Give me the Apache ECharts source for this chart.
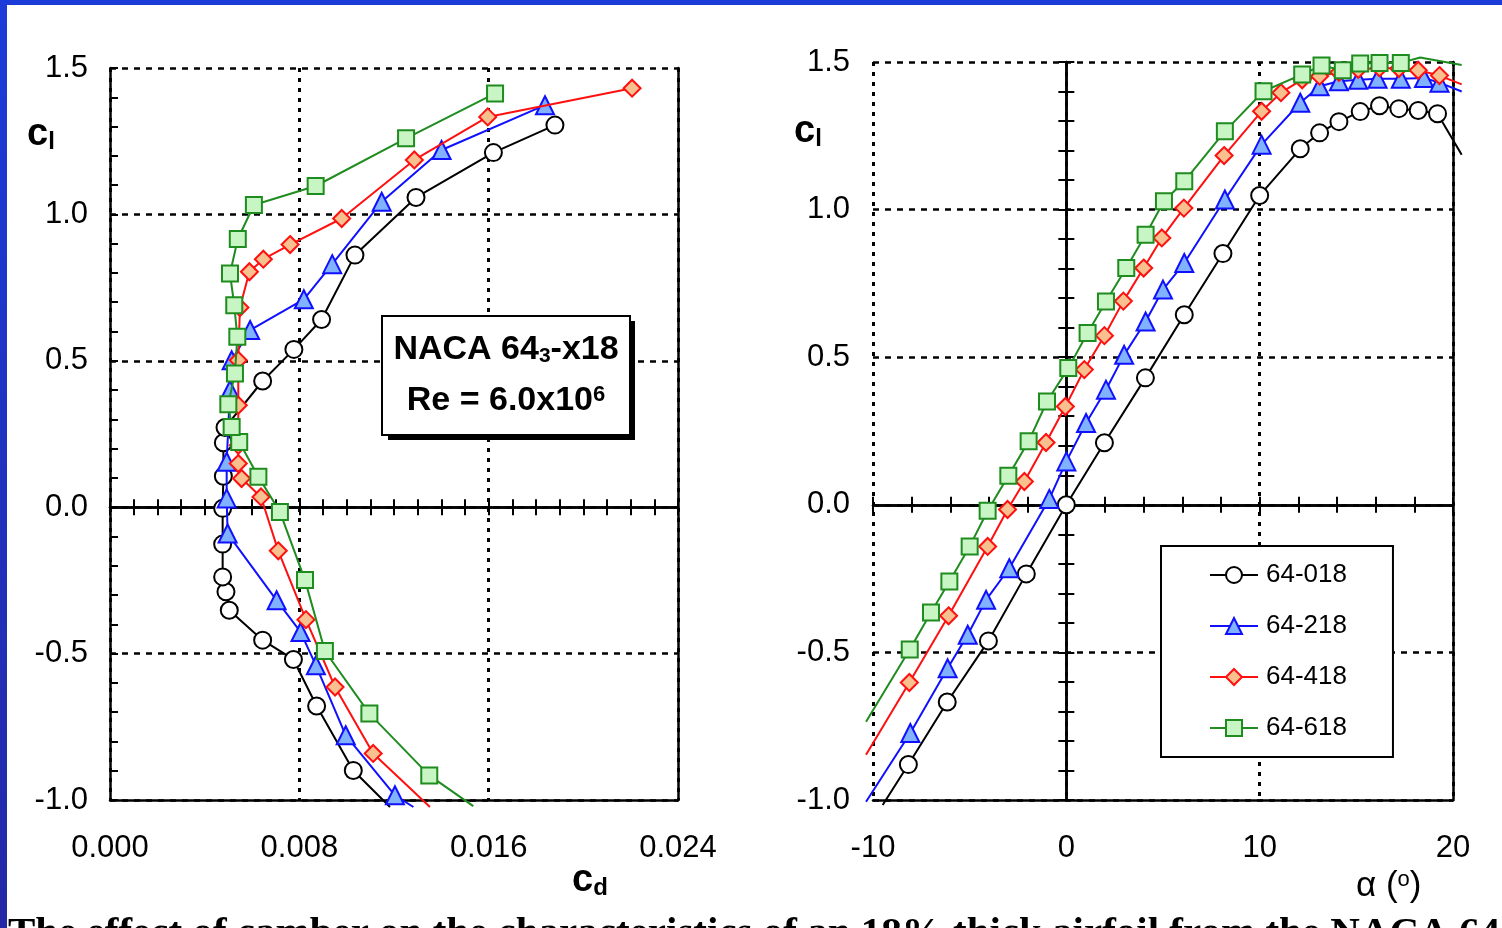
<!DOCTYPE html>
<html><head><meta charset="utf-8">
<script src="https://cdn.jsdelivr.net/npm/echarts@6/dist/echarts.min.js"></script>
<style>
html,body{margin:0;padding:0;width:1502px;height:928px;overflow:hidden;}
body{background:linear-gradient(to bottom,#1b3cd9 0%,#2428a6 100%);position:relative;}
#paper{position:absolute;left:7px;top:5px;right:0;bottom:0;background:#fff;}
#chart{position:absolute;left:0;top:0;width:1502px;height:928px;}
</style></head><body><div id="paper"></div><div id="chart"></div>
<script>
// ---------- DATA ----------
const names = ['64-018', '64-218', '64-418', '64-618'];

// Left panel: drag polar (cd, cl)
const cd018 = [0.01183, 0.01028, 0.00873, 0.00775, 0.00645, 0.00504, 0.00490, 0.00476, 0.00476, 0.00476, 0.00479, 0.00479, 0.00486, 0.00645, 0.00777, 0.00894, 0.01035, 0.01293, 0.01620, 0.01880];
const clD018 = [-1.024, -0.899, -0.679, -0.520, -0.454, -0.352, -0.289, -0.238, -0.126, -0.004, 0.106, 0.220, 0.272, 0.431, 0.539, 0.641, 0.861, 1.058, 1.211, 1.305];
const fitD018 = [0];

const cd218 = [0.01282, 0.01204, 0.00996, 0.00870, 0.00805, 0.00704, 0.00497, 0.00493, 0.00493, 0.00507, 0.00514, 0.00592, 0.00819, 0.00939, 0.01148, 0.01401, 0.01838];
const clD218 = [-1.024, -0.984, -0.779, -0.540, -0.426, -0.318, -0.090, 0.030, 0.155, 0.400, 0.502, 0.605, 0.710, 0.830, 1.043, 1.220, 1.373];
const fitD218 = [0];

const cd418 = [0.01352, 0.01112, 0.00951, 0.00828, 0.00711, 0.00638, 0.00556, 0.00542, 0.00542, 0.00542, 0.00542, 0.00549, 0.00589, 0.00648, 0.00761, 0.00979, 0.01286, 0.01596, 0.02206];
const clD418 = [-1.024, -0.841, -0.614, -0.384, -0.149, 0.035, 0.098, 0.149, 0.212, 0.348, 0.502, 0.682, 0.804, 0.847, 0.897, 0.986, 1.186, 1.333, 1.431];
const fitD418 = [0];

const cd618 = [0.01535, 0.01349, 0.01096, 0.00908, 0.00824, 0.00718, 0.00627, 0.00546, 0.00514, 0.00500, 0.00528, 0.00538, 0.00525, 0.00507, 0.00540, 0.00608, 0.00869, 0.01251, 0.01627];
const clD618 = [-1.021, -0.916, -0.705, -0.491, -0.249, -0.016, 0.104, 0.223, 0.274, 0.352, 0.457, 0.582, 0.690, 0.798, 0.916, 1.032, 1.097, 1.260, 1.413];
const fitD618 = [0];

// Right panel: lift curve (alpha, cl)
const a018 = [-9.5, -8.17, -6.16, -4.03, -2.07, 0, 1.97, 4.09, 6.1, 8.1, 10.0, 12.1, 13.1, 14.1, 15.2, 16.2, 17.2, 18.2, 19.2, 20.45];
const clA018 = [-1.017, -0.88, -0.668, -0.461, -0.234, 0, 0.21, 0.43, 0.644, 0.851, 1.048, 1.206, 1.26, 1.298, 1.332, 1.352, 1.342, 1.336, 1.325, 1.186];
const fitA018 = [0, 19];

const a218 = [-10.36, -8.07, -6.14, -5.1, -4.15, -2.95, -0.88, 0, 1.02, 2.05, 2.99, 4.1, 5.0, 6.1, 8.2, 10.1, 12.1, 13.1, 14.1, 15.1, 16.1, 17.3, 18.5, 19.3, 20.45];
const clA218 = [-1.006, -0.773, -0.554, -0.44, -0.322, -0.215, 0.02, 0.147, 0.277, 0.39, 0.508, 0.621, 0.729, 0.819, 1.034, 1.22, 1.362, 1.418, 1.435, 1.44, 1.443, 1.443, 1.446, 1.43, 1.40];
const fitA218 = [0, 24];

const a418 = [-10.36, -8.12, -6.09, -4.07, -3.04, -2.17, -1.05, -0.05, 0.93, 1.97, 2.95, 4.0, 4.94, 6.08, 8.16, 10.1, 11.1, 12.2, 13.1, 14.1, 15.1, 16.2, 17.2, 18.2, 19.3, 20.45];
const clA418 = [-0.847, -0.602, -0.376, -0.141, -0.016, 0.079, 0.211, 0.333, 0.458, 0.573, 0.69, 0.802, 0.904, 1.005, 1.183, 1.333, 1.396, 1.44, 1.452, 1.465, 1.475, 1.48, 1.478, 1.472, 1.454, 1.424];
const fitA418 = [0, 25];

const a618 = [-10.36, -8.1, -7.0, -6.05, -5.0, -4.07, -3.0, -1.95, -1.0, 0.1, 1.1, 2.05, 3.1, 4.1, 5.05, 6.1, 8.2, 10.2, 12.2, 13.2, 14.3, 15.2, 16.2, 17.3, 18.3, 20.45];
const clA618 = [-0.735, -0.49, -0.365, -0.26, -0.141, -0.02, 0.098, 0.215, 0.35, 0.463, 0.582, 0.689, 0.802, 0.915, 1.028, 1.096, 1.265, 1.401, 1.458, 1.488, 1.472, 1.495, 1.497, 1.497, 1.515, 1.49];
const fitA618 = [0, 24, 25];

// ---------- LAYOUT / STYLE ----------
const FONT = 'Liberation Sans';
const G1 = { left: 873, top: 62, width: 580, height: 738, xmin: -10, xmax: 20 };
// Same scale as right panel but wider, so curve-fit ends can run past the frame (x-direction is always clipped).
const PAD = 10;
const pxPerUnit = G1.width / (G1.xmax - G1.xmin);
const G2 = { left: G1.left - PAD * pxPerUnit, top: G1.top, width: G1.width + 2 * PAD * pxPerUnit, height: G1.height };

const sty = [
  { line: '#000000', fill: '#ffffff', symbol: 'circle', size: 17 },
  { line: '#1010ff', fill: '#80b2ff', symbol: 'triangle', size: 18 },
  { line: '#ff1010', fill: '#f8c08e', symbol: 'diamond', size: 17 },
  { line: '#1f8c1f', fill: '#c8f5c4', symbol: 'rect', size: 16 }
];

function pts(xs, ys, fit) {
  return xs.map((x, i) => fit.includes(i) ? { value: [x, ys[i]], symbol: 'none' } : [x, ys[i]]);
}
function mkSeries(k, xi, yi, data) {
  const s = sty[k];
  return {
    type: 'line', name: names[k], xAxisIndex: xi, yAxisIndex: yi, data: data,
    symbol: s.symbol, symbolSize: s.size, showSymbol: true, clip: false,
    lineStyle: { color: s.line, width: 2 },
    itemStyle: { color: s.fill, borderColor: s.line, borderWidth: 2 },
    emphasis: { disabled: true }, silent: true, z: 3 + k
  };
}

const BLACK = '#000';
const hDash = { color: BLACK, width: 2.5, type: [6, 6] };
const vDot = { color: BLACK, width: 3, type: [4, 6] };
const solid = { color: BLACK, width: 2.5 };
const lbl = { color: BLACK, fontSize: 31, fontFamily: FONT, showMinLabel: true, showMaxLabel: true, hideOverlap: false };
const none = { show: false };

function zeroAxisX(grid, pos, min, max, interval, yIdx) {
  return { gridIndex: grid, type: 'value', position: pos, min: min, max: max, interval: interval,
    axisLine: { show: true, onZero: true, onZeroAxisIndex: yIdx, lineStyle: solid },
    axisTick: { show: true, inside: false, length: 8, lineStyle: { color: BLACK, width: 2 } },
    axisLabel: none, splitLine: none };
}
function zeroAxisY(grid, pos, min, max, interval, xIdx) {
  return { gridIndex: grid, type: 'value', position: pos, min: min, max: max, interval: interval,
    axisLine: { show: true, onZero: true, onZeroAxisIndex: xIdx, lineStyle: solid },
    axisTick: { show: true, inside: false, length: 8, lineStyle: { color: BLACK, width: 2 } },
    axisLabel: none, splitLine: none };
}
function richLabel(x, y, main, sub, mainSize, subSize, subLH, subAlign, bold) {
  const fw = bold ? 'bold' : 'normal';
  return { type: 'text', z: 52, x: x, y: y, style: {
    text: main, align: 'left', verticalAlign: 'middle',
    rich: { c: { fontSize: mainSize, fontWeight: fw, fontFamily: FONT, lineHeight: mainSize, fill: BLACK },
            s: { fontSize: subSize, fontWeight: fw, fontFamily: FONT, lineHeight: subLH, verticalAlign: subAlign, fill: BLACK } } } };
}

const option = {
  animation: false,
  backgroundColor: 'transparent',
  textStyle: { fontFamily: FONT },
  grid: [
    { left: 110, top: 68, width: 568, height: 732, outerBoundsMode: 'none', containLabel: false },
    { left: G1.left, top: G1.top, width: G1.width, height: G1.height, outerBoundsMode: 'none', containLabel: false },
    { left: G2.left, top: G2.top, width: G2.width, height: G2.height, outerBoundsMode: 'none', containLabel: false }
  ],
  xAxis: [
    { gridIndex: 0, type: 'value', position: 'bottom', min: 0, max: 0.024, interval: 0.008,
      axisLine: { show: true, onZero: false, lineStyle: solid }, axisTick: none,
      axisLabel: Object.assign({ margin: 33, formatter: v => v.toFixed(3) }, lbl),
      splitLine: { show: true, lineStyle: vDot } },
    zeroAxisX(0, 'top', 0, 0.024, 0.001, 0),
    zeroAxisX(0, 'bottom', 0, 0.024, 0.001, 0),
    { gridIndex: 1, type: 'value', position: 'bottom', min: G1.xmin, max: G1.xmax, interval: 10,
      axisLine: { show: true, onZero: false, lineStyle: solid }, axisTick: none,
      axisLabel: Object.assign({ margin: 33, formatter: v => String(Math.round(v)) }, lbl),
      splitLine: { show: true, lineStyle: vDot } },
    zeroAxisX(1, 'top', G1.xmin, G1.xmax, 2, 2),
    zeroAxisX(1, 'bottom', G1.xmin, G1.xmax, 2, 2),
    { gridIndex: 2, type: 'value', show: false, min: G1.xmin - PAD, max: G1.xmax + PAD,
      axisLine: { show: false, onZero: false } }
  ],
  yAxis: [
    { gridIndex: 0, type: 'value', position: 'left', min: -1, max: 1.5, interval: 0.5,
      axisLine: { show: true, onZero: false, lineStyle: solid },
      axisTick: { show: true, inside: true, length: 8, lineStyle: { color: BLACK, width: 2 } },
      minorTick: { show: true, splitNumber: 5, length: 8, lineStyle: { color: BLACK, width: 2 } },
      axisLabel: Object.assign({ margin: 22, formatter: v => v.toFixed(1) }, lbl),
      splitLine: { show: true, lineStyle: hDash } },
    { gridIndex: 0, type: 'value', position: 'right', min: -1, max: 1.5,
      axisLine: { show: true, onZero: false, lineStyle: solid }, axisTick: none, axisLabel: none, splitLine: none },
    { gridIndex: 1, type: 'value', position: 'left', min: -1, max: 1.5, interval: 0.5,
      axisLine: { show: false, onZero: false }, axisTick: none,
      axisLabel: Object.assign({ margin: 23, formatter: v => v.toFixed(1) }, lbl),
      splitLine: { show: true, lineStyle: hDash } },
    zeroAxisY(1, 'left', -1, 1.5, 0.1, 3),
    zeroAxisY(1, 'right', -1, 1.5, 0.1, 3),
    { gridIndex: 1, type: 'value', position: 'right', min: -1, max: 1.5,
      axisLine: { show: true, onZero: false, lineStyle: solid }, axisTick: none, axisLabel: none, splitLine: none },
    { gridIndex: 2, type: 'value', show: false, min: -1, max: 1.5, axisLine: { show: false, onZero: false } }
  ],
  legend: {
    data: names, orient: 'vertical', left: 1161, top: 546,
    padding: [16, 46, 16, 48], itemGap: 25, itemWidth: 48, itemHeight: 20,
    borderColor: BLACK, borderWidth: 2, backgroundColor: '#fff', selectedMode: false,
    textStyle: { fontSize: 26, color: BLACK, fontFamily: FONT, padding: [0, 0, 0, 3] }
  },
  graphic: [
    { type: 'rect', z: 50, shape: { x: 388, y: 321, width: 247, height: 119 }, style: { fill: BLACK } },
    { type: 'rect', z: 51, shape: { x: 382, y: 316, width: 248, height: 119 }, style: { fill: '#fff', stroke: BLACK, lineWidth: 2 } },
    { type: 'text', z: 52, x: 506, y: 350, style: {
        text: '{m|NACA 64}{s|3}{m|-x18}', align: 'center', verticalAlign: 'middle', fill: BLACK,
        rich: { m: { fontSize: 34, fontWeight: 'bold', fontFamily: FONT, lineHeight: 34, fill: BLACK },
                s: { fontSize: 21, fontWeight: 'bold', fontFamily: FONT, lineHeight: 10, verticalAlign: 'bottom', fill: BLACK } } } },
    { type: 'text', z: 52, x: 506, y: 401, style: {
        text: '{m|Re = 6.0x10}{u|6}', align: 'center', verticalAlign: 'middle', fill: BLACK,
        rich: { m: { fontSize: 34, fontWeight: 'bold', fontFamily: FONT, lineHeight: 34, fill: BLACK },
                u: { fontSize: 22, fontWeight: 'bold', fontFamily: FONT, lineHeight: 20, verticalAlign: 'top', fill: BLACK } } } },
    richLabel(27, 135, '{c|c}{s|l}', null, 38, 24, 16, 'bottom', true),
    richLabel(794, 132, '{c|c}{s|l}', null, 38, 24, 16, 'bottom', true),
    richLabel(572, 881, '{c|c}{s|d}', null, 38, 24, 16, 'bottom', true),
    richLabel(1356, 886, '{c|α (}{s|o}{c|)}', null, 35, 22, 18, 'top', false),
    { type: 'text', z: 52, x: 8, y: 914, style: {
        text: 'The effect of camber on the characteristics of an 18% thick airfoil from the NACA 64',
        align: 'left', verticalAlign: 'top', fill: BLACK,
        font: 'bold 41px "Liberation Serif"' } }
  ],
  series: [
    mkSeries(0, 0, 0, pts(cd018, clD018, fitD018)),
    mkSeries(1, 0, 0, pts(cd218, clD218, fitD218)),
    mkSeries(2, 0, 0, pts(cd418, clD418, fitD418)),
    mkSeries(3, 0, 0, pts(cd618, clD618, fitD618)),
    mkSeries(0, 6, 6, pts(a018, clA018, fitA018)),
    mkSeries(1, 6, 6, pts(a218, clA218, fitA218)),
    mkSeries(2, 6, 6, pts(a418, clA418, fitA418)),
    mkSeries(3, 6, 6, pts(a618, clA618, fitA618))
  ]
};
const chart = echarts.init(document.getElementById('chart'), null, { renderer: 'canvas' });
chart.setOption(option);
</script></body></html>
